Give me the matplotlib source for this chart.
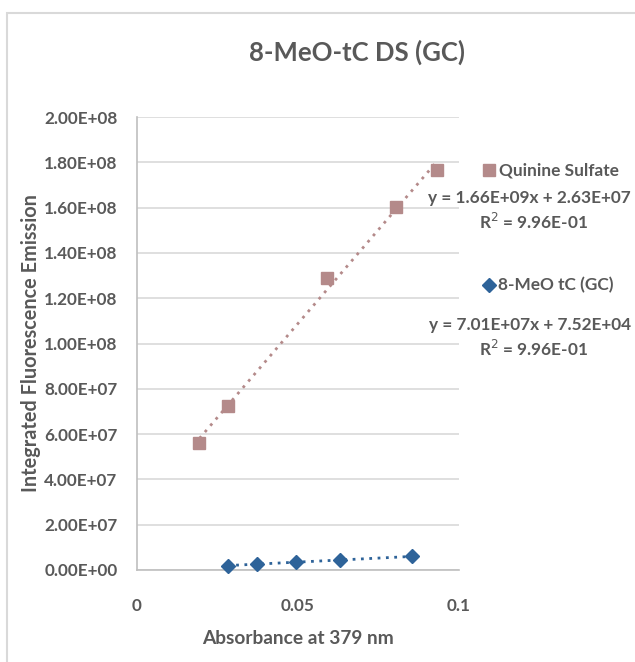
import numpy as np
import matplotlib
matplotlib.use("Agg")
import matplotlib.pyplot as plt
from matplotlib.patches import Rectangle

plt.rcParams['font.family'] = ['Lato', 'DejaVu Sans']

title = "8-MeO-tC DS (GC)"
xlabel = "Absorbance at 379 nm"
ylabel = "Integrated Fluorescence Emission"

qs_name = "Quinine Sulfate"
qs_x = [0.0194, 0.0282, 0.0591, 0.0803, 0.0931]
qs_y = [55.9e6, 72.4e6, 128.8e6, 160.4e6, 176.6e6]
qs_eq = "y = 1.66E+09x + 2.63E+07"
qs_r2 = "R$^2$ = 9.96E-01"

tc_name = "8-MeO tC (GC)"
tc_x = [0.0282, 0.0372, 0.0494, 0.0631, 0.0853]
tc_y = [1.9e6, 2.7e6, 3.4e6, 4.4e6, 6.0e6]
tc_eq = "y = 7.01E+07x + 7.52E+04"
tc_r2 = "R$^2$ = 9.96E-01"

yticks = np.arange(0, 2.0e8 + 1, 2.0e7)
ytick_labels = ["0.00E+00", "2.00E+07", "4.00E+07", "6.00E+07", "8.00E+07",
                "1.00E+08", "1.20E+08", "1.40E+08", "1.60E+08", "1.80E+08", "2.00E+08"]
xticks = [0, 0.05, 0.1]
xtick_labels = ["0", "0.05", "0.1"]

qs_color = "#b48a8a"
tc_color = "#2e6399"
txt = "#595959"

W, H = 635, 662
fig = plt.figure(figsize=(W / 100, H / 100), dpi=100)
fig.patch.set_facecolor("white")
# outer chart frame
fig.patches.append(Rectangle((7 / W, -0.1), 1.2, (H - 13) / H + 0.1, transform=fig.transFigure,
                             fill=False, edgecolor="#d9d9d9", linewidth=1.5))

ax = fig.add_axes([137 / W, (H - 570) / H, (459 - 137) / W, (570 - 117) / H])
ax.set_xlim(0, 0.1)
ax.set_ylim(0, 2.0e8)
ax.set_yticks(yticks)
ax.set_yticklabels(ytick_labels)
ax.set_xticks(xticks)
ax.set_xticklabels(xtick_labels)
ax.tick_params(length=0, labelsize=12.3, colors=txt)
ax.tick_params(axis="y", pad=14)
ax.tick_params(axis="x", pad=20)
for lab in ax.get_xticklabels() + ax.get_yticklabels():
    lab.set_fontweight("bold")
ax.grid(axis="y", color="#d9d9d9", linewidth=1.2)
ax.set_axisbelow(True)
for s in ["top", "right"]:
    ax.spines[s].set_visible(False)
for s in ["left", "bottom"]:
    ax.spines[s].set_color("#bfbfbf")
    ax.spines[s].set_linewidth(1.2)

# trendlines
for xs, ys, c in [(qs_x, qs_y, qs_color), (tc_x, tc_y, tc_color)]:
    p = np.polyfit(xs, ys, 1)
    xx = np.array([min(xs), max(xs)])
    ax.plot(xx, np.polyval(p, xx), linestyle=(0, (1, 2)), color=c, linewidth=2, zorder=2)

ax.plot(qs_x, qs_y, linestyle="none", marker="s", markersize=8.5, color=qs_color, zorder=3,
        clip_on=False)
ax.plot(tc_x, tc_y, linestyle="none", marker="D", markersize=7, color=tc_color, zorder=3,
        clip_on=False)

ax.set_xlabel(xlabel, fontsize=13.8, color=txt, fontweight="bold", labelpad=12)
ax.set_ylabel(ylabel, fontsize=14.3, color=txt, fontweight="bold", labelpad=2)

fig.text(357 / W, 1 - 52 / H, title, ha="center", va="center", fontsize=18.5, color=txt,
         fontweight="bold")

# legend / equations
def ftxt(x, y, s, ha="left", size=12.4):
    fig.text(x / W, 1 - y / H, s, ha=ha, va="center", fontsize=size, color=txt, fontweight="bold")

fig.lines.append(plt.Line2D([489 / W], [1 - 170 / H], marker="s", markersize=8.5, color=qs_color,
                            linestyle="none", transform=fig.transFigure))
ftxt(499, 170, qs_name)
ftxt(631, 198, qs_eq, ha="right")
ftxt(588, 222, qs_r2, ha="right")

fig.lines.append(plt.Line2D([489 / W], [1 - 285 / H], marker="D", markersize=7, color=tc_color,
                            linestyle="none", transform=fig.transFigure))
ftxt(498, 285, tc_name)
ftxt(631, 325, tc_eq, ha="right")
ftxt(588, 349, tc_r2, ha="right")

fig.savefig("out.png", dpi=100, facecolor="white")
